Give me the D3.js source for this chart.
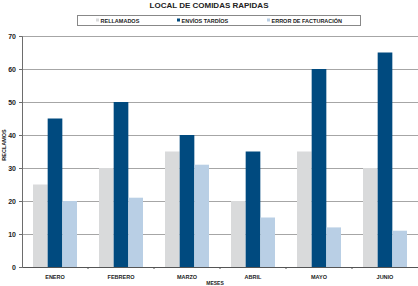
<!DOCTYPE html>
<html><head><meta charset="utf-8">
<script src="https://cdn.jsdelivr.net/npm/d3@7"></script>
<style>body{margin:0;background:#fff}svg{display:block;font-family:"Liberation Sans",Arial,sans-serif;font-weight:bold}</style>
</head><body>
<script>
const months = ["ENERO","FEBRERO","MARZO","ABRIL","MAYO","JUNIO"];
const seriesNames = ["RELLAMADOS","ENVÍOS TARDÍOS","ERROR DE FACTURACIÓN"];
const rellamados = [25,30,35,20,35,30];
const enviosTardios = [45,50,40,35,60,65];
const errorFacturacion = [20,21,31,15,12,11];
const yTicks = [0,10,20,30,40,50,60,70];
const colors = ["#d9dadb","#004a7f","#b9cfe5"];

const W=418,H=286;
const m={left:22,right:0,top:36,bottom:19};
const svg=d3.select("body").append("svg").attr("width",W).attr("height",H);
const x=d3.scaleBand().domain(months).range([m.left,W-m.right]).paddingInner(0).paddingOuter(0);
const y=d3.scaleLinear().domain([0,70]).range([H-m.bottom,m.top]);
const x1=d3.scaleBand().domain(seriesNames).range([x.bandwidth()/6, x.bandwidth()*5/6]).paddingInner(0).paddingOuter(0);

// grid
svg.append("g").selectAll("line").data(yTicks.slice(1)).join("line")
 .attr("x1",m.left).attr("x2",W).attr("y1",d=>Math.round(y(d))+0.5).attr("y2",d=>Math.round(y(d))+0.5)
 .attr("stroke","#a6a6a6").attr("stroke-width",1);

const data=[rellamados,enviosTardios,errorFacturacion];
months.forEach((mo,i)=>{
  seriesNames.forEach((s,j)=>{
    svg.append("rect").attr("x",x(mo)+x1(s)).attr("width",x1.bandwidth())
      .attr("y",y(data[j][i])).attr("height",y(0)-y(data[j][i])).attr("fill",colors[j]);
  });
});

// y axis
const ya=svg.append("g").attr("transform",`translate(${m.left},0)`).call(d3.axisLeft(y).tickValues(yTicks).tickSize(3).tickPadding(3));
ya.select(".domain").attr("stroke","#6d6d6d");
ya.selectAll(".tick line").attr("stroke","#6d6d6d");
ya.selectAll("text").attr("font-size",7).attr("fill","#222").attr("font-weight","bold");

// x axis
const xa=svg.append("g").attr("transform",`translate(0,${y(0)})`).call(d3.axisBottom(x).tickSize(0).tickPadding(8));
xa.select(".domain").attr("stroke","#555").attr("stroke-width",1.2);
xa.selectAll("text").attr("font-size",5.5).attr("fill","#222").attr("font-weight","bold");
svg.append("g").selectAll("line").data(months.slice(1)).join("line")
 .attr("x1",d=>x(d)).attr("x2",d=>x(d)).attr("y1",y(0)).attr("y2",y(0)+2).attr("stroke","#555");

// title
svg.append("text").attr("x",209).attr("y",7.5).attr("text-anchor","middle").attr("font-size",8).attr("fill","#222").text("LOCAL DE COMIDAS RAPIDAS");
// axis titles
svg.append("text").attr("x",215).attr("y",284.5).attr("text-anchor","middle").attr("font-size",5).attr("fill","#222").text("MESES");
svg.append("text").attr("transform","translate(6,145) rotate(-90)").attr("text-anchor","middle").attr("font-size",5.5).attr("fill","#222").text("RECLAMOS");

// legend
svg.append("rect").attr("x",77.5).attr("y",15.5).attr("width",283).attr("height",10).attr("fill","#fff").attr("stroke","#888");
const lx=[96,177,267];
seriesNames.forEach((s,j)=>{
  svg.append("rect").attr("x",lx[j]).attr("y",18.5).attr("width",3).attr("height",3).attr("fill",colors[j]);
  svg.append("text").attr("x",lx[j]+4.5).attr("y",22.5).attr("font-size",5.5).attr("fill","#222").text(s);
});
</script>
</body></html>
